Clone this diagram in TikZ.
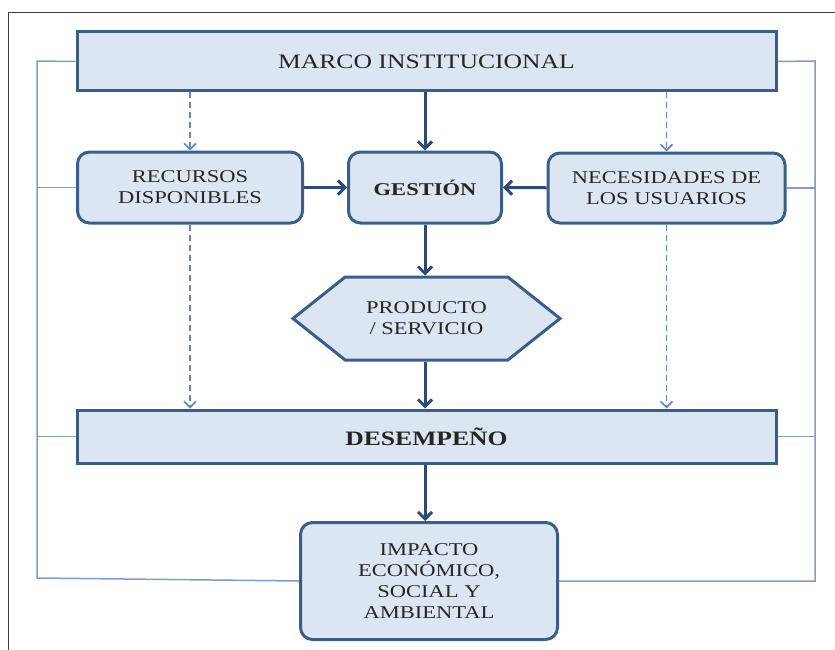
\documentclass[tikz,border=0pt]{standalone}
\usepackage{fontspec}
\usepackage{xcolor}
\setmainfont{Liberation Serif}[FakeStretch=1.25]
\usetikzlibrary{arrows.meta,shapes.symbols}

\definecolor{boxfill}{HTML}{DCE6F2}
\definecolor{boxedge}{HTML}{3A5E8C}
\definecolor{arrowcol}{HTML}{2E4A70}
\definecolor{thincol}{HTML}{7E9DCB}
\definecolor{dashcol}{HTML}{5F88C2}

\tikzset{
  base/.style={draw=boxedge, fill=boxfill, line width=3pt, align=center,
    inner sep=0pt, text=black!85, font=\fontsize{18}{21}\selectfont},
  widebox/.style={base, rectangle, minimum width=699pt, font=\fontsize{20.5}{24}\selectfont},
  roundbox/.style={base, rectangle, rounded corners=12pt},
  hexbox/.style={base, signal, signal to=east and west, signal pointer angle=77},
  solidarrow/.style={draw=arrowcol, line width=3pt, -{Straight Barb[length=7pt,width=14pt]}},
  dasharrow/.style={draw=dashcol, line width=1.6pt, dash pattern=on 6pt off 4pt,
    -{Straight Barb[length=6pt,width=12pt]}},
  thinline/.style={draw=thincol, line width=1.5pt}
}

\begin{document}
\begin{tikzpicture}[x=1pt,y=-1pt]
  \useasboundingbox (0,0) rectangle (835,650);
  % page frame
  \draw[black!75, line width=1pt] (835,13) -- (8,13) -- (8,650);

  % boxes
  \node[widebox, minimum height=59pt] (marco) at (426.5,61.5) {MARCO INSTITUCIONAL};
  \node[roundbox, minimum width=225pt, minimum height=71pt] (recursos) at (190,187.5) {RECURSOS\\DISPONIBLES};
  \node[roundbox, minimum width=153pt, minimum height=71pt] (gestion) at (425,187.5) {\bfseries GESTIÓN};
  \node[roundbox, minimum width=237pt, minimum height=70pt] (necesidades) at (666.5,188) {NECESIDADES DE\\LOS USUARIOS};
  \node[hexbox, minimum width=267pt, minimum height=83pt] (producto) at (426.5,318.5) {PRODUCTO\\/ SERVICIO};
  \node[widebox, minimum height=53pt] (desempeno) at (426.5,436.5) {\bfseries DESEMPEÑO};
  \node[roundbox, minimum width=257pt, minimum height=117pt] (impacto) at (429,581) {IMPACTO\\ECONÓMICO,\\SOCIAL Y\\AMBIENTAL};

  % feedback frame round the diagram
  \coordinate (lt) at (37,61);
  \coordinate (lb) at (37,578);
  \coordinate (rt) at (815,61);
  \draw[thinline] (marco.west) -- (lt) -- (lb) -- (impacto.west);
  \draw[thinline] (marco.east) -- (rt) |- (impacto.east);
  \draw[thinline] (recursos.west) -- (recursos.west -| lt);
  \draw[thinline] (desempeno.west) -- (desempeno.west -| lt);
  \draw[thinline] (necesidades.east) -- (necesidades.east -| rt);
  \draw[thinline] (desempeno.east) -- (desempeno.east -| rt);

  % dashed arrows
  \draw[dasharrow] (marco.south -| recursos) -- (recursos.north);
  \draw[dasharrow] (marco.south -| necesidades) -- (necesidades.north);
  \draw[dasharrow] (recursos.south) -- (desempeno.north -| recursos);
  \draw[dasharrow] (necesidades.south) -- (desempeno.north -| necesidades);

  % main flow
  \draw[solidarrow] (marco.south -| gestion) -- (gestion.north);
  \draw[solidarrow] (recursos) -- (gestion);
  \draw[solidarrow] (necesidades) -- (gestion);
  \draw[solidarrow] (gestion) -- (gestion |- producto.north);
  \draw[solidarrow] (producto.south -| gestion) -- (desempeno.north -| gestion);
  \draw[solidarrow] (desempeno.south -| gestion) -- (impacto.north -| gestion);
\end{tikzpicture}
\end{document}
